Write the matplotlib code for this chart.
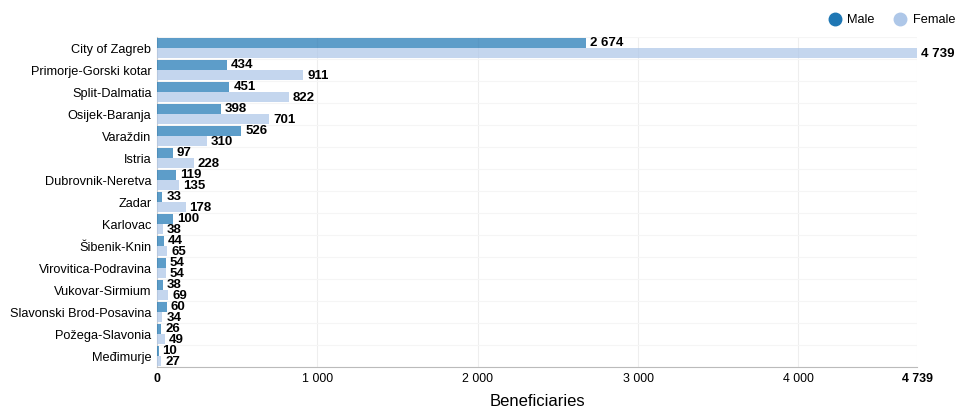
import matplotlib.pyplot as plt
import numpy as np
from matplotlib.lines import Line2D

plt.rcParams["font.family"] = ["Liberation Sans", "DejaVu Sans"]

regions = [
    "City of Zagreb", "Primorje-Gorski kotar", "Split-Dalmatia", "Osijek-Baranja",
    "Varaždin", "Istria", "Dubrovnik-Neretva", "Zadar", "Karlovac", "Šibenik-Knin",
    "Virovitica-Podravina", "Vukovar-Sirmium", "Slavonski Brod-Posavina",
    "Požega-Slavonia", "Međimurje",
]
male = [2674, 434, 451, 398, 526, 97, 119, 33, 100, 44, 54, 38, 60, 26, 10]
female = [4739, 911, 822, 701, 310, 228, 135, 178, 38, 65, 54, 69, 34, 49, 27]
xticks = [0, 1000, 2000, 3000, 4000, 4739]

male_color = "#1f77b4"
female_color = "#aec7e8"


def fmt(v):
    return f"{v:,}".replace(",", " ")


fig = plt.figure(figsize=(9.77, 4.08), dpi=100)
ax = fig.add_axes([0.1607, 0.100, 0.7779, 0.809])

y = np.arange(len(regions))
h = 0.45
ax.barh(y - h / 2, male, height=h, color=male_color, alpha=0.72, zorder=3)
ax.barh(y + h / 2, female, height=h, color=female_color, alpha=0.72, zorder=3)

for i in range(len(regions)):
    ax.text(male[i] + 25, y[i] - h / 2, fmt(male[i]), va="center", ha="left",
            fontsize=9.5, fontweight="bold", zorder=4)
    ax.text(female[i] + 25, y[i] + h / 2 + 0.05, fmt(female[i]), va="center", ha="left",
            fontsize=9.5, fontweight="bold", zorder=4)

ax.set_xlim(0, max(female))
ax.set_ylim(len(regions) - 0.5, -0.5)
ax.set_yticks(y)
ax.set_yticklabels(regions, fontsize=9.2)
ax.set_xticks(xticks)
labels = ax.set_xticklabels([fmt(t) for t in xticks], fontsize=8.9)
labels[0].set_fontweight("bold")
labels[-1].set_fontweight("bold")
ax.tick_params(axis="both", length=0, pad=4)
ax.set_xlabel("Beneficiaries", fontsize=12, labelpad=7)

ax.set_yticks(np.arange(len(regions) + 1) - 0.5, minor=True)
ax.grid(axis="y", which="minor", color="#f5f5f5", linewidth=0.8, zorder=0)
ax.grid(axis="x", which="major", color="#eeeeee", linewidth=0.8, zorder=0)
ax.tick_params(axis="y", which="minor", length=0)

for s in ["top", "right"]:
    ax.spines[s].set_visible(False)
ax.spines["left"].set_color("#cccccc")
ax.spines["bottom"].set_color("#bbbbbb")

handles = [
    Line2D([], [], marker="o", linestyle="none", markersize=9, color=male_color),
    Line2D([], [], marker="o", linestyle="none", markersize=9, color=female_color),
]
fig.legend(handles, ["Male", "Female"], loc="upper right", bbox_to_anchor=(0.99, 0.993),
           ncol=2, frameon=False, fontsize=9.2, handletextpad=0.0, columnspacing=1.0,
           borderaxespad=0.5)

fig.savefig("out.png", dpi=100)
